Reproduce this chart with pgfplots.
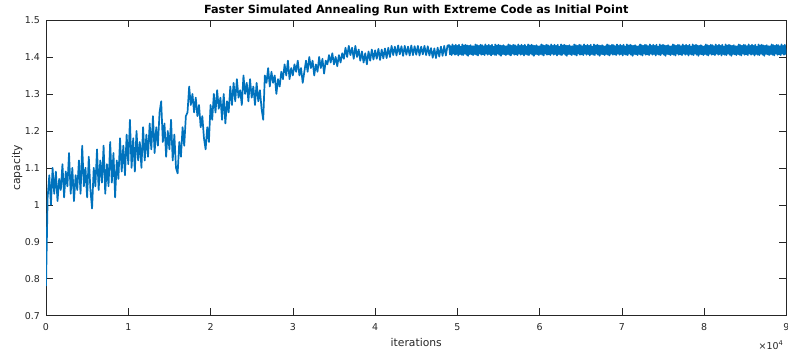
\documentclass[border=0pt]{standalone}
\usepackage{fontspec}
\setmainfont{DejaVu Sans}
\usepackage{pgfplots}
\pgfplotsset{compat=1.18}
\definecolor{mlblue}{RGB}{0,114,189}
\definecolor{axgray}{RGB}{38,38,38}
\begin{document}
\begin{tikzpicture}
\begin{axis}[
  scale only axis, width=740.5bp, height=295.7bp,
  xmin=0, xmax=90000, ymin=0.7, ymax=1.5,
  xtick={0,10000,20000,30000,40000,50000,60000,70000,80000,90000},
  ytick={0.7,0.8,0.9,1.0,1.1,1.2,1.3,1.4,1.5},
  scaled x ticks=base 10:-4,
  xtick scale label code/.code={×10\textsuperscript{4}},
  every x tick scale label/.style={at={(rel axis cs:1,0)}, anchor=north east, yshift=-21bp, xshift=-3bp, font=\fontsize{9.5}{10}\selectfont, text=axgray, inner sep=0pt},
  /pgf/number format/assume math mode=true,
  tick align=inside, tick pos=both,
  major tick length=7.4bp,
  axis line style={axgray, line width=0.5bp},
  every tick/.style={axgray, line width=0.5bp},
  ticklabel style={font=\fontsize{9.5}{11}\selectfont, text=axgray},
  yticklabel style={xshift=-2.5bp},
  xticklabel style={yshift=-4bp},
  every axis title shift=0pt,
  title={Faster Simulated Annealing Run with Extreme Code as Initial Point},
  title style={at={(rel axis cs:0.5,1)}, anchor=base, yshift=7bp, font=\fontsize{11.3}{13}\selectfont\bfseries, text=black},
  xlabel={iterations}, ylabel={capacity},
  xlabel style={at={(axis description cs:0.5,-0.104)}, anchor=base, font=\fontsize{10.8}{12}\selectfont, text=axgray},
  ylabel style={at={(axis description cs:-0.0351,0.5)}, anchor=base, font=\fontsize{10.8}{12}\selectfont, text=axgray},
]
\addplot[mlblue, line width=1.7bp, line join=round] coordinates {
(0,0.78)(200,1.02)(400,1.08)(600,1.00)(800,1.10)(1000,1.03)(1200,1.09)(1400,1.01)(1600,1.07)(1800,1.04)
(2000,1.11)(2200,1.02)(2400,1.09)(2600,1.05)(2800,1.14)(3000,1.03)(3200,1.10)(3400,1.01)(3600,1.08)(3800,1.04)
(4000,1.12)(4200,1.03)(4400,1.16)(4600,1.05)(4800,1.10)(5000,1.02)(5200,1.13)(5400,1.04)(5600,0.99)(5800,1.10)
(6000,1.05)(6200,1.15)(6400,1.04)(6600,1.12)(6800,1.06)(7000,1.16)(7200,1.03)(7400,1.11)(7600,1.05)(7800,1.17)
(8000,1.06)(8200,1.14)(8400,1.02)(8600,1.12)(8800,1.07)(9000,1.18)(9200,1.09)(9400,1.16)(9600,1.08)(9800,1.19)
(10000,1.11)(10200,1.23)(10400,1.10)(10600,1.18)(10800,1.09)(11000,1.20)(11200,1.12)(11400,1.17)(11600,1.10)(11800,1.21)
(12000,1.12)(12200,1.19)(12400,1.13)(12600,1.22)(12800,1.15)(13000,1.24)(13200,1.14)(13400,1.21)(13600,1.16)(13800,1.25)
(14000,1.28)(14200,1.17)(14400,1.22)(14600,1.13)(14800,1.20)(15000,1.15)(15200,1.23)(15400,1.12)(15600,1.19)(15800,1.10)
(16000,1.085)(16200,1.17)(16400,1.13)(16600,1.21)(16800,1.16)(17000,1.24)(17200,1.25)(17400,1.32)(17600,1.27)(17800,1.30)
(18000,1.25)(18200,1.29)(18400,1.24)(18600,1.27)(18800,1.21)(19000,1.24)(19200,1.18)(19400,1.15)(19600,1.21)(19800,1.17)
(20000,1.27)(20200,1.23)(20400,1.30)(20600,1.25)(20800,1.31)(21000,1.26)(21200,1.29)(21400,1.23)(21600,1.30)(21800,1.22)
(22000,1.28)(22200,1.25)(22400,1.32)(22600,1.27)(22800,1.33)(23000,1.28)(23200,1.34)(23400,1.29)(23600,1.31)(23800,1.27)
(24000,1.35)(24200,1.30)(24400,1.33)(24600,1.28)(24800,1.34)(25000,1.29)(25200,1.32)(25400,1.27)(25600,1.33)(25800,1.28)
(26000,1.31)(26200,1.26)(26400,1.23)(26600,1.35)(26800,1.33)(27000,1.37)(27200,1.32)(27400,1.36)(27600,1.33)(27800,1.35)
(28000,1.30)(28200,1.34)(28400,1.32)(28600,1.36)(28800,1.34)(29000,1.38)(29200,1.35)(29400,1.39)(29600,1.34)(29800,1.37)
(30000,1.35)(30200,1.38)(30400,1.36)(30600,1.39)(30800,1.35)(31000,1.37)(31200,1.33)(31400,1.36)(31600,1.39)(31800,1.36)
(32000,1.40)(32200,1.37)(32400,1.39)(32600,1.35)(32800,1.38)(33000,1.36)(33200,1.40)(33400,1.37)(33600,1.395)(33800,1.355)
(34000,1.39)(34200,1.38)(34400,1.405)(34600,1.385)(34800,1.41)(35000,1.38)(35200,1.40)(35400,1.375)(35600,1.405)(35800,1.385)
(36000,1.41)(36200,1.395)(36400,1.425)(36600,1.40)(36800,1.43)(37000,1.405)(37200,1.425)(37400,1.395)(37600,1.43)(37800,1.40)
(38000,1.42)(38200,1.39)(38400,1.415)(38600,1.385)(38800,1.41)(39000,1.38)(39200,1.415)(39400,1.39)(39600,1.42)(39800,1.393)
(40000,1.418)(40200,1.395)(40400,1.422)(40600,1.392)(40800,1.42)(41000,1.396)(41200,1.423)(41400,1.397)(41600,1.425)(41800,1.40)
(42000,1.43)(42200,1.405)(42400,1.428)(42600,1.404)(42800,1.431)(43000,1.407)(43200,1.429)(43400,1.403)(43600,1.43)(43800,1.406)
(44000,1.428)(44200,1.404)(44400,1.431)(44600,1.405)(44800,1.429)(45000,1.406)(45200,1.43)(45400,1.404)(45600,1.428)(45800,1.407)
(46000,1.43)(46200,1.405)(46400,1.429)(46600,1.404)(46800,1.424)(47000,1.398)(47200,1.423)(47400,1.397)(47600,1.425)(47800,1.401)
(48000,1.428)(48200,1.403)(48400,1.43)(48600,1.404)(48800,1.431)
(49000,1.432)(49100,1.407)(49200,1.429)(49300,1.405)(49400,1.434)(49500,1.409)(49600,1.430)(49700,1.406)(49800,1.433)(49900,1.408)
(50000,1.430)(50100,1.404)(50200,1.433)(50300,1.408)(50400,1.428)(50500,1.406)(50600,1.434)(50700,1.405)(50800,1.431)(50900,1.409)
(51000,1.433)(51100,1.406)(51200,1.431)(51300,1.403)(51400,1.430)(51500,1.408)(51600,1.432)(51700,1.407)(51800,1.429)(51900,1.405)
(52000,1.429)(52100,1.408)(52200,1.434)(52300,1.406)(52400,1.432)(52500,1.404)(52600,1.430)(52700,1.409)(52800,1.433)(52900,1.406)
(53000,1.432)(53100,1.407)(53200,1.429)(53300,1.405)(53400,1.434)(53500,1.409)(53600,1.430)(53700,1.406)(53800,1.433)(53900,1.408)
(54000,1.430)(54100,1.404)(54200,1.433)(54300,1.408)(54400,1.428)(54500,1.406)(54600,1.434)(54700,1.405)(54800,1.431)(54900,1.409)
(55000,1.433)(55100,1.406)(55200,1.431)(55300,1.403)(55400,1.430)(55500,1.408)(55600,1.432)(55700,1.407)(55800,1.429)(55900,1.405)
(56000,1.429)(56100,1.408)(56200,1.434)(56300,1.406)(56400,1.432)(56500,1.404)(56600,1.430)(56700,1.409)(56800,1.433)(56900,1.406)
(57000,1.432)(57100,1.407)(57200,1.429)(57300,1.405)(57400,1.434)(57500,1.409)(57600,1.430)(57700,1.406)(57800,1.433)(57900,1.408)
(58000,1.430)(58100,1.404)(58200,1.433)(58300,1.408)(58400,1.428)(58500,1.406)(58600,1.434)(58700,1.405)(58800,1.431)(58900,1.409)
(59000,1.433)(59100,1.406)(59200,1.431)(59300,1.403)(59400,1.430)(59500,1.408)(59600,1.432)(59700,1.407)(59800,1.429)(59900,1.405)
(60000,1.429)(60100,1.408)(60200,1.434)(60300,1.406)(60400,1.432)(60500,1.404)(60600,1.430)(60700,1.409)(60800,1.433)(60900,1.406)
(61000,1.432)(61100,1.407)(61200,1.429)(61300,1.405)(61400,1.434)(61500,1.409)(61600,1.430)(61700,1.406)(61800,1.433)(61900,1.408)
(62000,1.430)(62100,1.404)(62200,1.433)(62300,1.408)(62400,1.428)(62500,1.406)(62600,1.434)(62700,1.405)(62800,1.431)(62900,1.409)
(63000,1.433)(63100,1.406)(63200,1.431)(63300,1.403)(63400,1.430)(63500,1.408)(63600,1.432)(63700,1.407)(63800,1.429)(63900,1.405)
(64000,1.429)(64100,1.408)(64200,1.434)(64300,1.406)(64400,1.432)(64500,1.404)(64600,1.430)(64700,1.409)(64800,1.433)(64900,1.406)
(65000,1.432)(65100,1.407)(65200,1.429)(65300,1.405)(65400,1.434)(65500,1.409)(65600,1.430)(65700,1.406)(65800,1.433)(65900,1.408)
(66000,1.430)(66100,1.404)(66200,1.433)(66300,1.408)(66400,1.428)(66500,1.406)(66600,1.434)(66700,1.405)(66800,1.431)(66900,1.409)
(67000,1.433)(67100,1.406)(67200,1.431)(67300,1.403)(67400,1.430)(67500,1.408)(67600,1.432)(67700,1.407)(67800,1.429)(67900,1.405)
(68000,1.429)(68100,1.408)(68200,1.434)(68300,1.406)(68400,1.432)(68500,1.404)(68600,1.430)(68700,1.409)(68800,1.433)(68900,1.406)
(69000,1.432)(69100,1.407)(69200,1.429)(69300,1.405)(69400,1.434)(69500,1.409)(69600,1.430)(69700,1.406)(69800,1.433)(69900,1.408)
(70000,1.430)(70100,1.404)(70200,1.433)(70300,1.408)(70400,1.428)(70500,1.406)(70600,1.434)(70700,1.405)(70800,1.431)(70900,1.409)
(71000,1.433)(71100,1.406)(71200,1.431)(71300,1.403)(71400,1.430)(71500,1.408)(71600,1.432)(71700,1.407)(71800,1.429)(71900,1.405)
(72000,1.429)(72100,1.408)(72200,1.434)(72300,1.406)(72400,1.432)(72500,1.404)(72600,1.430)(72700,1.409)(72800,1.433)(72900,1.406)
(73000,1.432)(73100,1.407)(73200,1.429)(73300,1.405)(73400,1.434)(73500,1.409)(73600,1.430)(73700,1.406)(73800,1.433)(73900,1.408)
(74000,1.430)(74100,1.404)(74200,1.433)(74300,1.408)(74400,1.428)(74500,1.406)(74600,1.434)(74700,1.405)(74800,1.431)(74900,1.409)
(75000,1.433)(75100,1.406)(75200,1.431)(75300,1.403)(75400,1.430)(75500,1.408)(75600,1.432)(75700,1.407)(75800,1.429)(75900,1.405)
(76000,1.429)(76100,1.408)(76200,1.434)(76300,1.406)(76400,1.432)(76500,1.404)(76600,1.430)(76700,1.409)(76800,1.433)(76900,1.406)
(77000,1.432)(77100,1.407)(77200,1.429)(77300,1.405)(77400,1.434)(77500,1.409)(77600,1.430)(77700,1.406)(77800,1.433)(77900,1.408)
(78000,1.430)(78100,1.404)(78200,1.433)(78300,1.408)(78400,1.428)(78500,1.406)(78600,1.434)(78700,1.405)(78800,1.431)(78900,1.409)
(79000,1.433)(79100,1.406)(79200,1.431)(79300,1.403)(79400,1.430)(79500,1.408)(79600,1.432)(79700,1.407)(79800,1.429)(79900,1.405)
(80000,1.429)(80100,1.408)(80200,1.434)(80300,1.406)(80400,1.432)(80500,1.404)(80600,1.430)(80700,1.409)(80800,1.433)(80900,1.406)
(81000,1.432)(81100,1.407)(81200,1.429)(81300,1.405)(81400,1.434)(81500,1.409)(81600,1.430)(81700,1.406)(81800,1.433)(81900,1.408)
(82000,1.430)(82100,1.404)(82200,1.433)(82300,1.408)(82400,1.428)(82500,1.406)(82600,1.434)(82700,1.405)(82800,1.431)(82900,1.409)
(83000,1.433)(83100,1.406)(83200,1.431)(83300,1.403)(83400,1.430)(83500,1.408)(83600,1.432)(83700,1.407)(83800,1.429)(83900,1.405)
(84000,1.429)(84100,1.408)(84200,1.434)(84300,1.406)(84400,1.432)(84500,1.404)(84600,1.430)(84700,1.409)(84800,1.433)(84900,1.406)
(85000,1.432)(85100,1.407)(85200,1.429)(85300,1.405)(85400,1.434)(85500,1.409)(85600,1.430)(85700,1.406)(85800,1.433)(85900,1.408)
(86000,1.430)(86100,1.404)(86200,1.433)(86300,1.408)(86400,1.428)(86500,1.406)(86600,1.434)(86700,1.405)(86800,1.431)(86900,1.409)
(87000,1.433)(87100,1.406)(87200,1.431)(87300,1.403)(87400,1.430)(87500,1.408)(87600,1.432)(87700,1.407)(87800,1.429)(87900,1.405)
(88000,1.429)(88100,1.408)(88200,1.434)(88300,1.406)(88400,1.432)(88500,1.404)(88600,1.430)(88700,1.409)(88800,1.433)(88900,1.406)
(89000,1.432)(89100,1.407)(89200,1.429)(89300,1.405)(89400,1.434)(89500,1.409)(89600,1.430)(89700,1.406)(89800,1.433)(89900,1.408)
(90000,1.420)
};
\end{axis}
\pgfresetboundingbox
\path[use as bounding box] (-46bp,-36.3bp) rectangle (742bp,315.7bp);
\end{tikzpicture}
\end{document}
